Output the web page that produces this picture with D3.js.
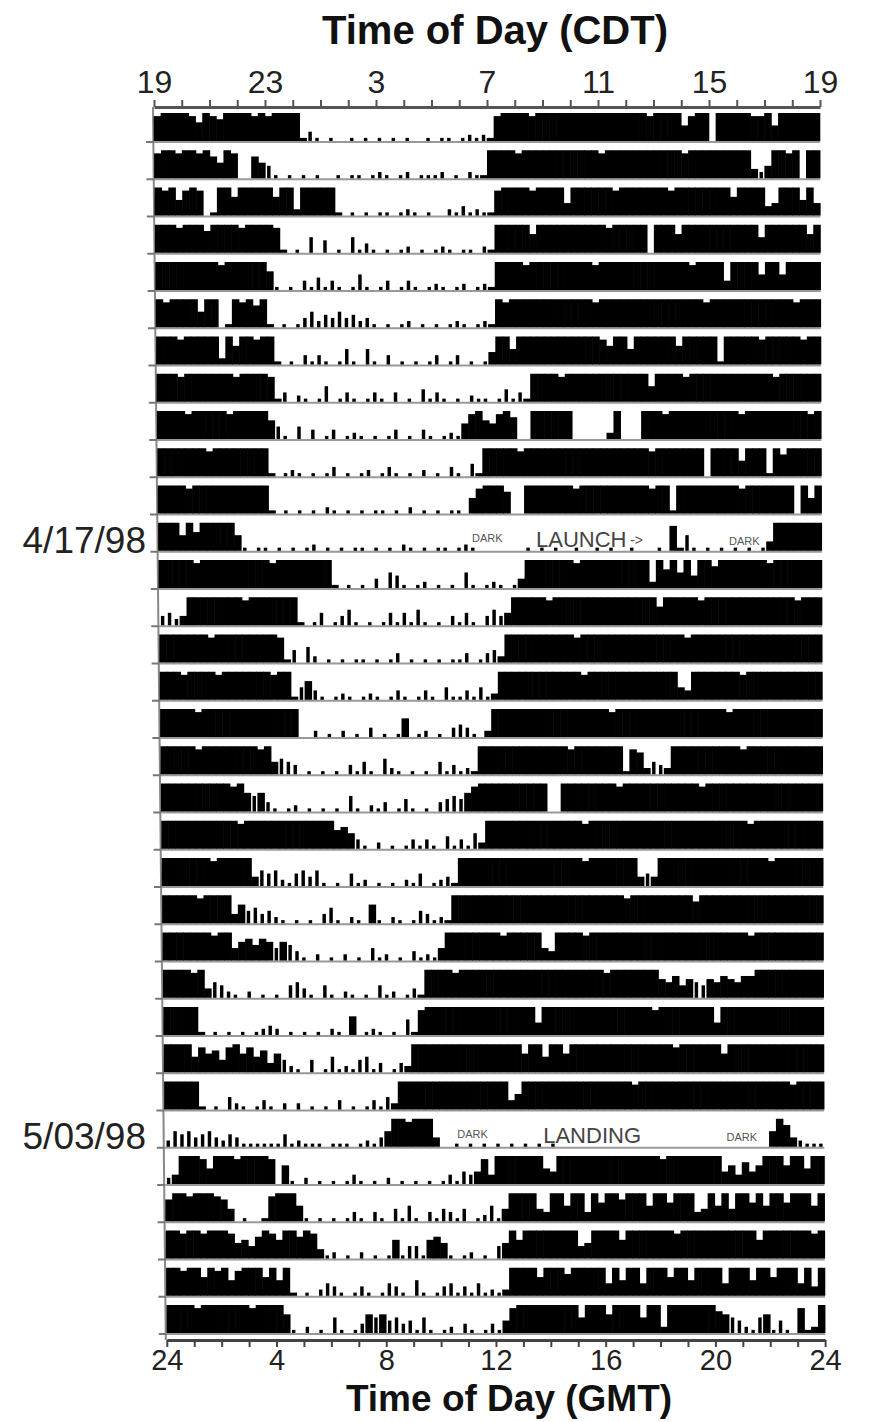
<!DOCTYPE html>
<html><head><meta charset="utf-8">
<script src="https://cdn.jsdelivr.net/npm/d3@7"></script>
<style>
html,body{margin:0;padding:0;background:#fff;}
svg{display:block;font-family:"Liberation Sans",Arial,Helvetica,sans-serif;}
</style></head><body>
<svg id="chart" width="871" height="1422"></svg>
<script>
// ---- data ----
const hourTicks = d3.range(0, 25);
const labelHours = [0, 4, 8, 12, 16, 20, 24];
const cdtLabels = ["19", "23", "3", "7", "11", "15", "19"];
const gmtLabels = ["24", "4", "8", "12", "16", "20", "24"];
const dateRows = [11, 27];
const dateTexts = ["4/17/98", "5/03/98"];
const annoRows = [11, 11, 11, 11, 27, 27, 27];
const annoHours = [11.9, 15.3, 17.3, 21.2, 11.2, 15.55, 21.0];
const annoTexts = ["DARK", "LAUNCH", "->", "DARK", "DARK", "LANDING", "DARK"];
// activity per 15-min bin (96 bins, GMT 0-24), level 0-9
const activity = [
"899998698799998989999"+"1310100101010101001011012121"+"8999989999999999999999899995899"+"0"+"999998895999999",
"899899897598"+"00"+"754"+"1010101001011012101201112010211"+"9999899999"+"9999998999"+"9999999989"+"99999999"+"324"+"9989"+"0"+"99",
"9895898"+"01"+"99699999699"+"2"+"99999"+"10101011012101002131211"+"8999989999"+"4999999899"+"9999989999"+"9999699993"+"4999594",
"999899979999899998"+"1010504010"+"5131010120"+"10121011021"+"9999969999999999899999"+"0"+"9996999999"+"9999959999"+"9969",
"99999999989999996"+"1010314131"+"0151013013"+"1012101201"+"21"+"9999899999"+"9999899999"+"9999999989"+"999"+"3"+"9999599599999",
"989999599"+"01"+"98979"+"1010135243"+"5342310101"+"2010101210"+"121"+"9899999999"+"9999899999"+"9999999999"+"8999999999"+"9998999",
"999899999"+"2"+"9699899"+"1010313101"+"5105103010"+"1013013010"+"14"+"9959999999"+"9999986995"+"9999996999"+"9919999989"+"9999899",
"99989999999899998"+"1302101501"+"3101310301"+"0413101021"+"1014131"+"9999899999"+"9999999599"+"9989999999"+"9999989999"+"99",
"9999899999899999"+"64"+"1040301301"+"2101013010"+"310121"+"58965897"+"00"+"999999"+"00000"+"2"+"9"+"000"+"9998999999"+"9999899999"+"999989",
"9999999899999999"+"1012101013"+"0101201310"+"1020103104"+"1"+"9999989999"+"9999999999"+"9999899999"+"99"+"0"+"99995999"+"1"+"9799999",
"9999899999999999"+"10101010210101011010201010110"+"5"+"89997"+"00"+"999999989999999999899"+"1"+"99999999989999999"+"0"+"959",
"999596999995"+"1011010101201010110101021010110121"+"0000000101"+"0100100101"+"0010001081"+"5101010101"+"01"+"3"+"9999999",
"9999989999999999899999999"+"1010103054"+"1012010105"+"10121013"+"9999999899"+"9999999929"+"6959499799"+"9999989999"+"999",
"3423"+"9999999989999999"+"1014013510"+"1014141510"+"1031410353"+"4"+"9999989999"+"9999999999"+"9699999899"+"9999999999"+"98999",
"999999989999999998"+"1405201010"+"1101013010"+"1010113013"+"42"+"9999999999"+"8999999999"+"9999998999"+"9999999999"+"999999",
"9998999989999999899"+"1463101210"+"1210131013"+"1041131412"+"99999999999989999999999999"+"43"+"9999999899999999999",
"99999899999999999999"+"0020102010"+"3010160120"+"10343102"+"9999999999"+"9999999899"+"9999999999"+"9999899999"+"99999999",
"9999989999999989"+"4543"+"0101010314"+"1052101010"+"413121"+"999999999999989999999"+"1"+"87"+"2"+"43"+"2"+"9999999999899999999999",
"999999999989"+"6563"+"1012010101"+"0510213014"+"1010345"+"4"+"689999999999"+"00"+"9999999989"+"9999999999"+"8999999999"+"99999999",
"9999999999989999999999999"+"6753"+"1020101313"+"10413152"+"9999999999"+"9999899999"+"9999999999"+"9999999989"+"999999999",
"9999999899999"+"3545214535"+"1010412010"+"1021401231"+"99999999999999999989999999"+"343"+"999999999999999989999999",
"9999989999"+"3645342"+"1010103510"+"2106102101"+"43121"+"9999999999"+"9999999999"+"9999989999"+"9999979999"+"9999999999"+"9999",
"9999999899"+"4675764653"+"1020102010"+"4120103121"+"4"+"99999999899999"+"43"+"9999899999"+"9999999999"+"9999999989"+"999999999",
"999989"+"3542"+"1020101045"+"3104102101"+"04120131"+"9999899999"+"9999999999"+"9999998999"+"9999"+"6574654657657"+"79999999999",
"99999"+"1010101012"+"3201010102"+"1060121010"+"51"+"8999999999"+"9999999499"+"9999999999"+"9999899999"+"9994999999"+"999999999",
"9999"+"586748968573642"+"1040151214"+"5130132"+"9999999999"+"9999996995"+"9969999999"+"9999999989"+"9999969999"+"9999999999",
"99999"+"1010421013"+"1020201010"+"301013142"+"9999999999"+"9999993599"+"9999999999"+"9999899999"+"9999999999"+"9999999899"+"99",
"254534532431"+"1111141211"+"1011101213"+"5"+"998999"+"3"+"0010101010"+"1010101000"+"0000000000"+"0000000000"+"00000000"+"59732111",
"23"+"99985"+"999899998"+"0"+"6"+"1020101013"+"1010201010"+"10131434"+"8"+"3"+"9999999549"+"9999999999"+"9999899999"+"9994637469"+"99699599",
"7998999874"+"01001"+"89995"+"1010101310"+"3104151031"+"4314012514"+"9999439959"+"9396997999"+"5996999349"+"5949969599"+"699959",
"9989989998"+"5647"+"98699798"+"3"+"1201020101"+"6144167510"+"1201045"+"9699999999"+"4599996999"+"9999899999"+"9999996999"+"999989",
"998996989589996959"+"1010243101"+"3101431051"+"0134131412"+"12"+"9999699979"+"9999495994"+"9996995999"+"9499959969"+"994939",
"999989999999899996"+"1020105101"+"3656453415"+"1012031013"+"14"+"8999999999"+"5999699995"+"9929999999"+"7654"+"215614108129"
];

// ---- layout ----
const svg = d3.select("#chart");
const nRows = activity.length;
const baseY = d3.scaleLinear().domain([0, nRows - 1]).range([141, 141 + 32 * 37.25]);
const H = 28;
const level = d3.scaleLinear().domain([0, 9]).range([0, H]);
const xRow = i => d3.scaleLinear().domain([0, 24]).range([154 + 0.4 * i, 820 + 0.16 * i]);
const topY = 107, botY = 1340;

// left edge line and row ticks
svg.append("line")
  .attr("x1", xRow(0)(0) - 1).attr("y1", topY)
  .attr("x2", xRow(nRows - 1)(0) - 1).attr("y2", botY)
  .attr("stroke", "#888").attr("stroke-width", 2);

activity.forEach((s, i) => {
  const x = xRow(i), y0 = baseY(i);
  const vals = s.padEnd(96, "0").slice(0, 96).split("").map(Number);
  const g = svg.append("g");
  g.append("line")
    .attr("x1", x(0) - 8).attr("x2", x(0)).attr("y1", y0 + 1).attr("y2", y0 + 1)
    .attr("stroke", "#777").attr("stroke-width", 2);
  g.append("line")
    .attr("x1", x(0)).attr("x2", x(24)).attr("y1", y0 + 1).attr("y2", y0 + 1)
    .attr("stroke", "#999").attr("stroke-width", 2);
  const wide = (v, b) => v >= 6 || Math.max(vals[b - 1] || 0, vals[b + 1] || 0) >= 7;
  g.selectAll("rect")
    .data(vals.map((v, b) => ({v, b})).filter(d => d.v > 0))
    .join("rect")
    .attr("x", d => {
      const a = x(d.b / 4), w = x((d.b + 1) / 4) - a;
      return wide(d.v, d.b) ? a - 0.3 : a + w * 0.25;
    })
    .attr("width", d => {
      const w = x((d.b + 1) / 4) - x(d.b / 4);
      return wide(d.v, d.b) ? w + 0.6 : w * 0.5;
    })
    .attr("y", d => y0 - level(d.v))
    .attr("height", d => level(d.v))
    .attr("fill", "#000");
});

// top axis (CDT)
const topScale = xRow(0);
const topAxis = d3.axisTop(topScale)
  .tickValues(hourTicks)
  .tickSize(7).tickSizeOuter(0).tickPadding(7)
  .tickFormat(h => { const k = labelHours.indexOf(h); return k >= 0 ? cdtLabels[k] : ""; });
const gTop = svg.append("g").attr("transform", `translate(0,${topY})`).call(topAxis);
gTop.select(".domain").attr("stroke", "#555").attr("stroke-width", 3);
gTop.selectAll(".tick line").attr("stroke", "#555").attr("stroke-width", 2);
gTop.selectAll(".tick text").attr("font-size", 32).attr("fill", "#222")
  .attr("font-family", "Liberation Sans, Arial, sans-serif");

// bottom axis (GMT)
const botScale = xRow(nRows - 1);
const botAxis = d3.axisBottom(botScale)
  .tickValues(hourTicks)
  .tickSize(7).tickSizeOuter(0).tickPadding(2)
  .tickFormat(h => { const k = labelHours.indexOf(h); return k >= 0 ? gmtLabels[k] : ""; });
const gBot = svg.append("g").attr("transform", `translate(0,${botY})`).call(botAxis);
gBot.select(".domain").attr("stroke", "#444").attr("stroke-width", 3);
gBot.selectAll(".tick line").attr("stroke", "#444").attr("stroke-width", 2);
gBot.selectAll(".tick text").attr("font-size", 29).attr("fill", "#222")
  .attr("font-family", "Liberation Sans, Arial, sans-serif");

// titles
svg.append("text").attr("x", 495).attr("y", 44).attr("text-anchor", "middle")
  .attr("font-size", 40).attr("font-weight", "bold").attr("fill", "#111")
  .text("Time of Day (CDT)");
svg.append("text").attr("x", 509).attr("y", 1411).attr("text-anchor", "middle")
  .attr("font-size", 37).attr("font-weight", "bold").attr("fill", "#111")
  .text("Time of Day (GMT)");

// date labels
dateRows.forEach((r, k) => {
  svg.append("text").attr("x", 146).attr("y", baseY(r) + 2).attr("text-anchor", "end")
    .attr("font-size", 37).attr("fill", "#222").text(dateTexts[k]);
});

// annotations
annoRows.forEach((r, k) => {
  const t = annoTexts[k];
  const big = t.length > 4;
  const size = big ? 22 : (t === "->" ? 14 : 11);
  const dy = big ? -4 : (k % 4 === 0 || k === 4 ? -9 : -6);
  svg.append("text")
    .attr("x", xRow(r)(annoHours[k])).attr("y", baseY(r) + dy)
    .attr("text-anchor", "middle").attr("font-size", size)
    .attr("fill", big ? "#444" : "#555").text(t);
});
</script>
</body></html>
